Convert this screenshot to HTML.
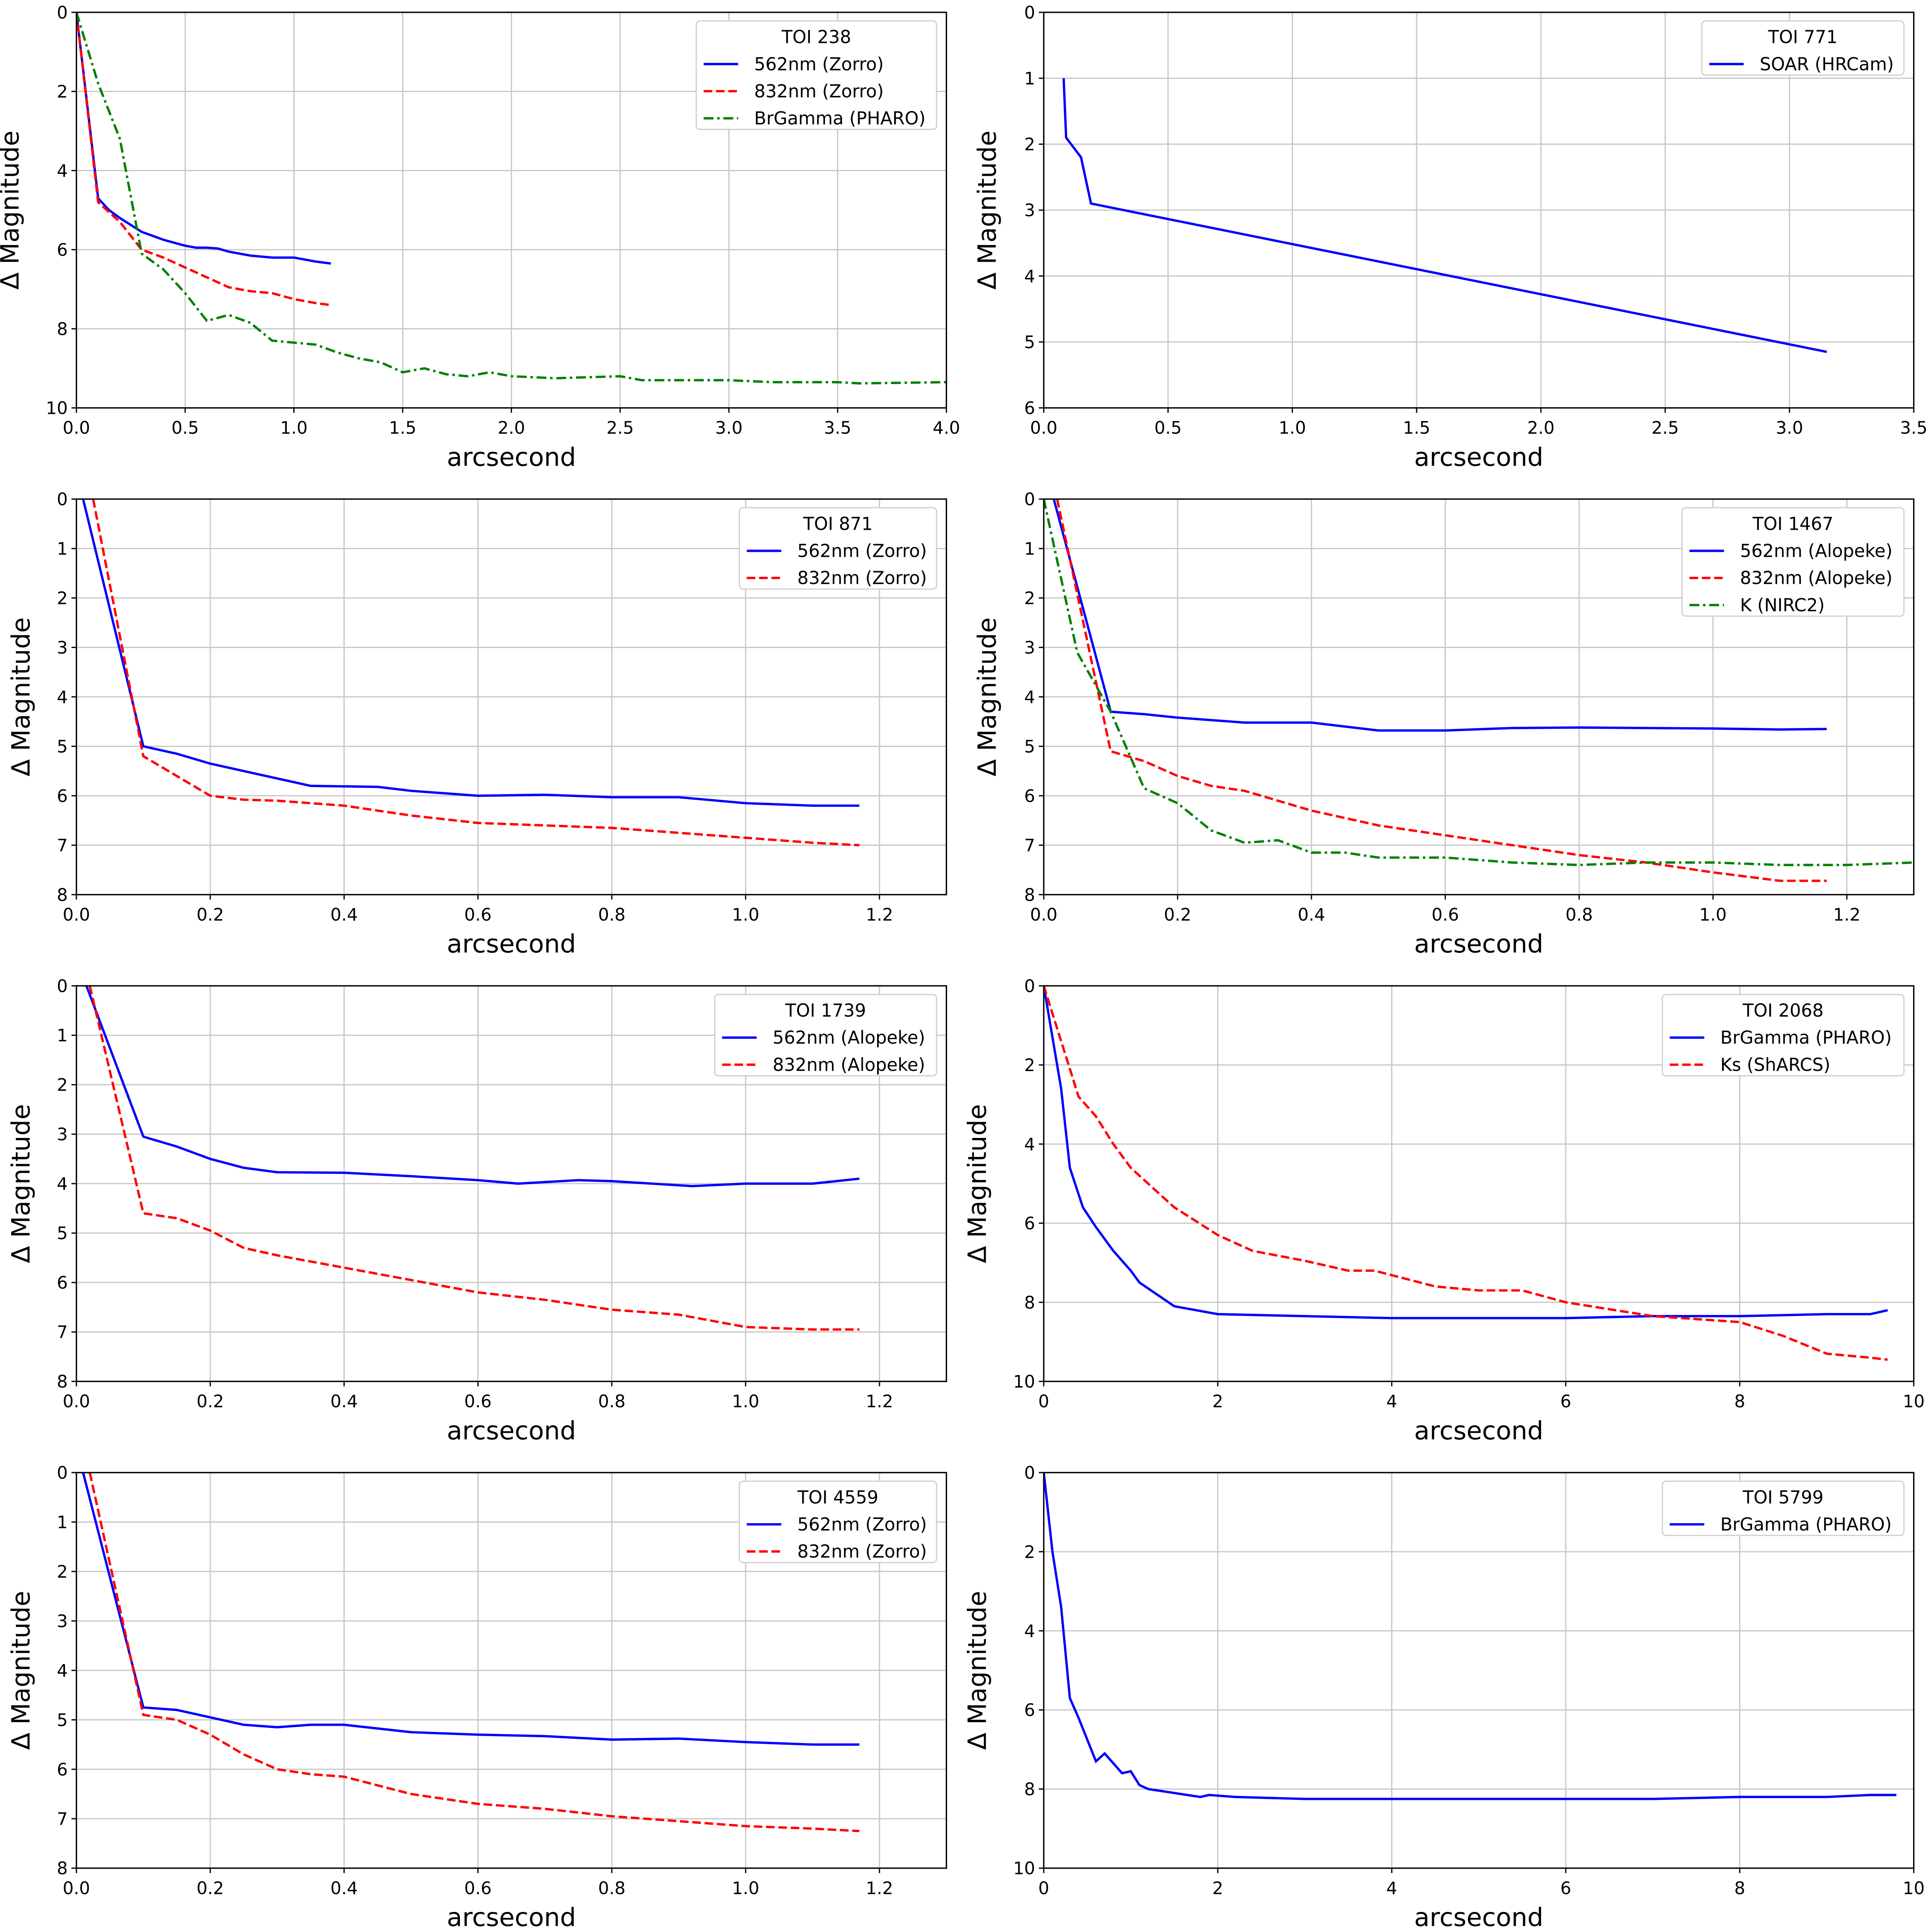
<!DOCTYPE html>
<html><head><meta charset="utf-8"><style>
html,body{margin:0;padding:0;background:#fff;overflow:hidden;width:5125px;height:5125px}
svg{display:block}
text{font-family:"DejaVu Sans","Liberation Sans",sans-serif;fill:#000}
</style></head><body>
<svg id="fig" width="5125" height="5125" viewBox="0 0 1607 1607" xmlns="http://www.w3.org/2000/svg"></svg>
<script>
// ---- data ----
const toi238_562 = [[0,0],[0.1,4.7],[0.15,5.0],[0.2,5.2],[0.3,5.55],[0.4,5.75],[0.5,5.9],[0.55,5.95],[0.6,5.95],[0.65,5.97],[0.7,6.05],[0.8,6.15],[0.9,6.2],[1.0,6.2],[1.1,6.3],[1.17,6.35]];
const toi238_832 = [[0,0],[0.1,4.8],[0.2,5.3],[0.3,6.0],[0.4,6.2],[0.5,6.45],[0.6,6.7],[0.7,6.95],[0.8,7.05],[0.9,7.1],[1.0,7.25],[1.1,7.35],[1.17,7.4]];
const toi238_br = [[0,0],[0.1,1.8],[0.2,3.2],[0.3,6.1],[0.4,6.5],[0.5,7.1],[0.6,7.8],[0.7,7.65],[0.8,7.85],[0.9,8.3],[1.0,8.35],[1.1,8.4],[1.2,8.6],[1.3,8.75],[1.4,8.85],[1.5,9.1],[1.6,9.0],[1.7,9.15],[1.8,9.2],[1.9,9.1],[2.0,9.2],[2.2,9.25],[2.5,9.2],[2.6,9.3],[3.0,9.3],[3.2,9.35],[3.5,9.35],[3.6,9.38],[4.0,9.35]];
const toi771_soar = [[0.08,1],[0.09,1.9],[0.15,2.2],[0.19,2.9],[3.15,5.15]];
const toi871_562 = [[0.01,0],[0.1,5.0],[0.15,5.15],[0.2,5.35],[0.25,5.5],[0.3,5.65],[0.35,5.8],[0.45,5.82],[0.5,5.9],[0.6,6.0],[0.7,5.98],[0.8,6.03],[0.9,6.03],[1.0,6.15],[1.1,6.2],[1.17,6.2]];
const toi871_832 = [[0.025,0],[0.1,5.2],[0.15,5.6],[0.2,6.0],[0.25,6.08],[0.3,6.1],[0.4,6.2],[0.5,6.4],[0.6,6.55],[0.7,6.6],[0.8,6.65],[0.9,6.75],[1.0,6.85],[1.1,6.95],[1.17,7.0]];
const toi1467_562 = [[0.015,0],[0.1,4.3],[0.15,4.35],[0.2,4.42],[0.3,4.52],[0.4,4.52],[0.5,4.68],[0.6,4.68],[0.7,4.63],[0.8,4.62],[0.9,4.63],[1.0,4.64],[1.1,4.66],[1.17,4.65]];
const toi1467_832 = [[0.02,0],[0.1,5.1],[0.15,5.3],[0.2,5.6],[0.25,5.8],[0.3,5.9],[0.4,6.3],[0.5,6.6],[0.6,6.8],[0.7,7.0],[0.8,7.2],[0.9,7.35],[1.0,7.55],[1.1,7.72],[1.17,7.72]];
const toi1467_k = [[0,0],[0.05,3.1],[0.1,4.3],[0.15,5.85],[0.2,6.15],[0.25,6.7],[0.3,6.95],[0.35,6.9],[0.4,7.15],[0.45,7.15],[0.5,7.25],[0.6,7.25],[0.7,7.35],[0.8,7.4],[0.9,7.35],[1.0,7.35],[1.1,7.4],[1.2,7.4],[1.3,7.35]];
const toi1739_562 = [[0.015,0],[0.1,3.05],[0.15,3.25],[0.2,3.5],[0.25,3.68],[0.3,3.77],[0.4,3.78],[0.5,3.85],[0.6,3.93],[0.66,4.0],[0.75,3.93],[0.8,3.95],[0.92,4.05],[1.0,4.0],[1.1,4.0],[1.17,3.9]];
const toi1739_832 = [[0.02,0],[0.1,4.6],[0.15,4.7],[0.2,4.95],[0.25,5.3],[0.3,5.45],[0.4,5.7],[0.5,5.95],[0.6,6.2],[0.7,6.35],[0.8,6.55],[0.9,6.65],[1.0,6.9],[1.1,6.95],[1.17,6.95]];
const toi2068_br = [[0,0],[0.2,2.6],[0.3,4.6],[0.45,5.6],[0.6,6.1],[0.8,6.7],[1.0,7.2],[1.1,7.5],[1.5,8.1],[2,8.3],[3,8.35],[4,8.4],[5,8.4],[6,8.4],[7,8.35],[7.5,8.35],[8,8.35],[9,8.3],[9.5,8.3],[9.7,8.2]];
const toi2068_ks = [[0,0],[0.2,1.4],[0.4,2.8],[0.6,3.3],[0.8,4.0],[1.0,4.6],[1.5,5.6],[2.0,6.3],[2.4,6.7],[3,6.95],[3.5,7.2],[3.8,7.2],[4.5,7.6],[5,7.7],[5.5,7.7],[6,8.0],[7,8.35],[8,8.5],[8.5,8.85],[9,9.3],[9.5,9.4],[9.7,9.45]];
const toi4559_562 = [[0.01,0],[0.1,4.75],[0.15,4.8],[0.2,4.95],[0.25,5.1],[0.3,5.15],[0.35,5.1],[0.4,5.1],[0.5,5.25],[0.6,5.3],[0.7,5.33],[0.8,5.4],[0.9,5.38],[1.0,5.45],[1.1,5.5],[1.17,5.5]];
const toi4559_832 = [[0.02,0],[0.1,4.9],[0.15,5.0],[0.2,5.3],[0.25,5.7],[0.3,6.0],[0.35,6.1],[0.4,6.15],[0.5,6.5],[0.6,6.7],[0.7,6.8],[0.8,6.95],[0.9,7.05],[1.0,7.15],[1.1,7.2],[1.17,7.25]];
const toi5799_br = [[0,0],[0.1,2],[0.2,3.4],[0.3,5.7],[0.4,6.2],[0.6,7.3],[0.7,7.1],[0.9,7.6],[1.0,7.55],[1.1,7.9],[1.2,8.0],[1.5,8.1],[1.8,8.2],[1.9,8.15],[2.2,8.2],[3,8.25],[4,8.25],[5,8.25],[6,8.25],[7,8.25],[8,8.2],[9,8.2],[9.5,8.15],[9.8,8.15]];

const xt05_4 = [0,0.5,1,1.5,2,2.5,3,3.5,4];
const xt05_35 = [0,0.5,1,1.5,2,2.5,3,3.5];
const xt02 = [0,0.2,0.4,0.6,0.8,1.0,1.2];
const xt2 = [0,2,4,6,8,10];
const yt2 = [0,2,4,6,8,10];
const yt1_6 = [0,1,2,3,4,5,6];
const yt1_8 = [0,1,2,3,4,5,6,7,8];

const NS='http://www.w3.org/2000/svg';
const svg=document.getElementById('fig');
function el(tag,attrs,parent){const e=document.createElementNS(NS,tag);for(const k in attrs)e.setAttribute(k,attrs[k]);(parent||svg).appendChild(e);return e;}
const STY={
 blue:{stroke:'#0000ff',dash:''},
 red:{stroke:'#ff0000',dash:'7,3'},
 green:{stroke:'#008000',dash:'8,3,2,3'}
};
function fmt(v,dec){return v.toFixed(dec);}
function panel(name,L,T,xmax,ymax,xticks,yticks,xdec,series,title,legW,ylOff){
 const W=706,H=321;
 const g=el('g',{},svg);
 
 
 const sx=v=>L+v/xmax*W, sy=v=>T+v/ymax*H;
 xticks.forEach(t=>{const x=sx(t);
  if(t>0&&t<xmax){const l=el('line',{x1:x,x2:x,y1:T,y2:T+H,stroke:'#c8c8c8','stroke-width':1},g);}
  el('line',{x1:x,x2:x,y1:T+H,y2:T+H+4,stroke:'#000','stroke-width':1},g);
  const tx=el('text',{x:x,y:T+H+21,'font-size':14,'text-anchor':'middle'},g);tx.textContent=fmt(t,xdec);
  
 });
 yticks.forEach(t=>{const y=sy(t);
  if(t>0&&t<ymax){const l=el('line',{x1:L,x2:L+W,y1:y,y2:y,stroke:'#c8c8c8','stroke-width':1},g);}
  el('line',{x1:L-4,x2:L,y1:y,y2:y,stroke:'#000','stroke-width':1},g);
  const tx=el('text',{x:L-7,y:y+5,'font-size':14,'text-anchor':'end'},g);tx.textContent=String(t);
  
 });
 const clipId='c'+name;
 const cp=el('clipPath',{id:clipId},g);el('rect',{x:L,y:T,width:W,height:H},cp);
 series.forEach(s=>{const st=STY[s.c];
  const d=s.d.map((p,i)=>(i?'L':'M')+sx(p[0]).toFixed(2)+','+sy(p[1]).toFixed(2)).join(' ');
  const p=el('path',{d:d,fill:'none',stroke:st.stroke,'stroke-width':1.9,'stroke-dasharray':st.dash,'clip-path':'url(#'+clipId+')'},g);
  
 });
 const fr=el('rect',{x:L,y:T,width:W,height:H,fill:'none',stroke:'#000','stroke-width':1.1},g);
 
 const xl=el('text',{x:L+W/2,y:T+H+47,'font-size':20.5,'text-anchor':'middle'},g);xl.textContent='arcsecond';
 
 const yx=L-ylOff,yy=T+H/2;
 const yl=el('text',{x:yx,y:yy,'font-size':20.5,'text-anchor':'middle',transform:'rotate(-90 '+yx+' '+yy+')'},g);yl.textContent='Δ Magnitude';
 
 const lh=22+series.length*22;const lx=L+W-8-legW, ly=T+7;
 const lg=el('g',{},g);
 el('rect',{x:lx,y:ly,width:legW,height:lh,rx:3,fill:'#fff',stroke:'#d0d0d0','stroke-width':1},lg);
 const tt=el('text',{x:lx+legW/2,y:ly+18,'font-size':14.4,'text-anchor':'middle'},lg);tt.textContent=title;
 
 series.forEach((s,i)=>{const st=STY[s.c];const yy2=ly+40+i*22-5;
  el('line',{x1:lx+6,x2:lx+34,y1:yy2,y2:yy2,stroke:st.stroke,'stroke-width':1.9,'stroke-dasharray':st.dash},lg);
  const t=el('text',{x:lx+47,y:yy2+5,'font-size':14.4},lg);t.textContent=s.n;
  
 });
}
panel('toi-238-panel',62,10,4,10,xt05_4,yt2,1,[{d:toi238_562,c:'blue',n:'562nm (Zorro)'},{d:toi238_832,c:'red',n:'832nm (Zorro)'},{d:toi238_br,c:'green',n:'BrGamma (PHARO)'}],'TOI 238',195,47);
panel('toi-771-panel',847,10,3.5,6,xt05_35,yt1_6,1,[{d:toi771_soar,c:'blue',n:'SOAR (HRCam)'}],'TOI 771',164,39);
panel('toi-871-panel',62,405,1.3,8,xt02,yt1_8,1,[{d:toi871_562,c:'blue',n:'562nm (Zorro)'},{d:toi871_832,c:'red',n:'832nm (Zorro)'}],'TOI 871',160,38);
panel('toi-1467-panel',847,405,1.3,8,xt02,yt1_8,1,[{d:toi1467_562,c:'blue',n:'562nm (Alopeke)'},{d:toi1467_832,c:'red',n:'832nm (Alopeke)'},{d:toi1467_k,c:'green',n:'K (NIRC2)'}],'TOI 1467',180,39);
panel('toi-1739-panel',62,800,1.3,8,xt02,yt1_8,1,[{d:toi1739_562,c:'blue',n:'562nm (Alopeke)'},{d:toi1739_832,c:'red',n:'832nm (Alopeke)'}],'TOI 1739',180,38);
panel('toi-2068-panel',847,800,10,10,xt2,yt2,0,[{d:toi2068_br,c:'blue',n:'BrGamma (PHARO)'},{d:toi2068_ks,c:'red',n:'Ks (ShARCS)'}],'TOI 2068',196,47);
panel('toi-4559-panel',62,1195,1.3,8,xt02,yt1_8,1,[{d:toi4559_562,c:'blue',n:'562nm (Zorro)'},{d:toi4559_832,c:'red',n:'832nm (Zorro)'}],'TOI 4559',160,38);
panel('toi-5799-panel',847,1195,10,10,xt2,yt2,0,[{d:toi5799_br,c:'blue',n:'BrGamma (PHARO)'}],'TOI 5799',196,47);
</script>
</body></html>
